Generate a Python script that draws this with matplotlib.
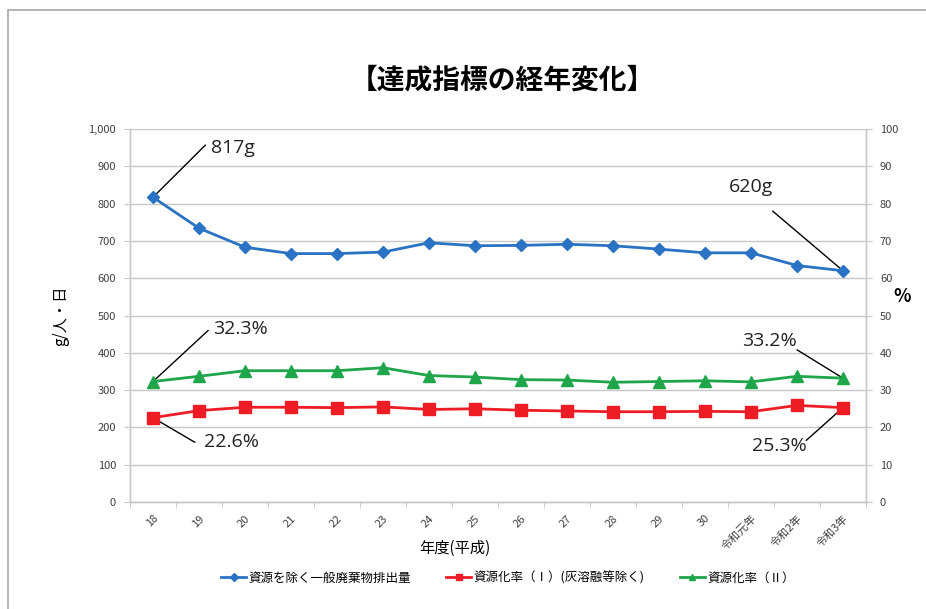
import matplotlib
matplotlib.use("Agg")
import matplotlib.pyplot as plt
from matplotlib.lines import Line2D
from matplotlib.patches import Rectangle

plt.rcParams['font.family'] = ['Noto Sans CJK JP', 'DejaVu Sans']

categories = ['18', '19', '20', '21', '22', '23', '24', '25', '26', '27', '28', '29', '30',
              '令和元年', '令和2年', '令和3年']
discharge = [817, 734, 683, 666, 666, 670, 695, 687, 688, 691, 687, 678, 668, 668, 634, 620]
rate1 = [22.6, 24.5, 25.4, 25.4, 25.3, 25.5, 24.8, 25.0, 24.6, 24.4, 24.2, 24.2, 24.3, 24.2, 25.9, 25.3]
rate2 = [32.3, 33.7, 35.2, 35.2, 35.2, 36.0, 33.9, 33.5, 32.8, 32.7, 32.1, 32.3, 32.5, 32.2, 33.7, 33.2]
left_ticks = list(range(0, 1001, 100))
right_ticks = list(range(0, 101, 10))

series_names = ['資源を除く一般廃棄物排出量', '資源化率（Ⅰ）(灰溶融等除く)', '資源化率（Ⅱ）']

c_blue = '#2a72c3'
c_red = '#ee1c25'
c_green = '#1fa54a'
grid_c = '#c8c8c8'
tick_c = '#404040'

fig = plt.figure(figsize=(9.26, 6.09), dpi=100)
fig.patch.set_facecolor('white')

# outer frame (left and top edges visible)
frame = Rectangle((8 / 926, -0.05), 1.2, 1 - 10 / 609 + 0.05, transform=fig.transFigure,
                  fill=False, edgecolor='#a8a8a8', lw=1.2)
fig.patches.append(frame)

ax = fig.add_axes([130 / 926, 1 - 502 / 609, (866 - 130) / 926, (502 - 129) / 609])
ax2 = ax.twinx()

x = list(range(len(categories)))

ax.set_xlim(-0.5, len(categories) - 0.5)
ax.set_ylim(0, 1000)
ax2.set_ylim(0, 100)

ax.set_yticks(left_ticks)
ax.set_yticklabels([f'{v:,}' for v in left_ticks])
ax2.set_yticks(right_ticks)
ax.grid(axis='y', color=grid_c, lw=1.0)
ax.set_axisbelow(True)

ax.set_xticks(x)
ax.set_xticklabels(categories, rotation=45, ha='right', va='top', rotation_mode='anchor')
ax.set_xticks([i - 0.5 for i in range(len(categories) + 1)], minor=True)
ax.tick_params(axis='x', which='major', length=0, pad=8, labelsize=8, labelcolor=tick_c)
ax.tick_params(axis='x', which='minor', length=4, color=grid_c, direction='out')
ax.tick_params(axis='y', length=4, color=grid_c, labelsize=8, labelcolor=tick_c, pad=6)
ax2.tick_params(axis='y', length=4, color=grid_c, labelsize=8, labelcolor=tick_c, pad=6)

for a in (ax, ax2):
    a.spines['top'].set_visible(False)
    for s in ('left', 'right', 'bottom'):
        a.spines[s].set_color(grid_c)
        a.spines[s].set_linewidth(1.0)

ax.plot(x, discharge, color=c_blue, lw=2, marker='D', ms=6.5, zorder=5)
ax2.plot(x, rate1, color=c_red, lw=2, marker='s', ms=9, zorder=5)
ax2.plot(x, rate2, color=c_green, lw=2, marker='^', ms=9, zorder=5)

# annotations
def note(axis, xi, yi, x0, y0, tx, ty, text, ha):
    axis.annotate('', xy=(xi, yi), xytext=(x0, y0),
                  arrowprops=dict(arrowstyle='-', color='black', lw=1.0, shrinkA=0, shrinkB=0))
    axis.text(tx, ty, text, fontsize=14, ha=ha, va='center', color='#222222',
              family=['Open Sans', 'DejaVu Sans'])

last = len(categories) - 1
note(ax, 0, discharge[0], 1.14, 957, 1.27, 950, f'{discharge[0]}g', 'left')
note(ax, last, discharge[-1], 13.47, 780, 13.0, 845, f'{discharge[-1]}g', 'center')
note(ax2, 0, rate2[0], 1.2, 46.0, 1.9, 46.5, f'{rate2[0]}%', 'center')
note(ax2, last, rate2[-1], 14.0, 40.8, 13.4, 43.2, f'{rate2[-1]}%', 'center')
note(ax2, 0, rate1[0], 0.91, 16.0, 1.7, 16.0, f'{rate1[0]}%', 'center')
note(ax2, last, rate1[-1], 14.2, 16.5, 13.62, 15.0, f'{rate1[-1]}%', 'center')

ax.set_ylabel('g/人・日', fontsize=11, labelpad=14)
fig.text(902 / 926, 1 - 296 / 609, '%', fontsize=13, ha='center', va='center', fontweight='bold')
fig.text(455 / 926, 1 - 548 / 609, '年度(平成)', fontsize=11, ha='center', va='center')

fig.text(502 / 926, 1 - 80 / 609, '【達成指標の経年変化】', fontsize=20, ha='center', va='center',
         fontweight='bold')

handles = [
    Line2D([], [], color=c_blue, lw=2, marker='D', ms=4),
    Line2D([], [], color=c_red, lw=2, marker='s', ms=5),
    Line2D([], [], color=c_green, lw=2, marker='^', ms=5),
]
fig.legend(handles, series_names, loc='center', bbox_to_anchor=(508 / 926, 1 - 578 / 609),
           ncol=3, frameon=False, fontsize=9, handlelength=2.0, handletextpad=0.2,
           columnspacing=2.8)

fig.savefig('out.png', dpi=100, facecolor='white')
